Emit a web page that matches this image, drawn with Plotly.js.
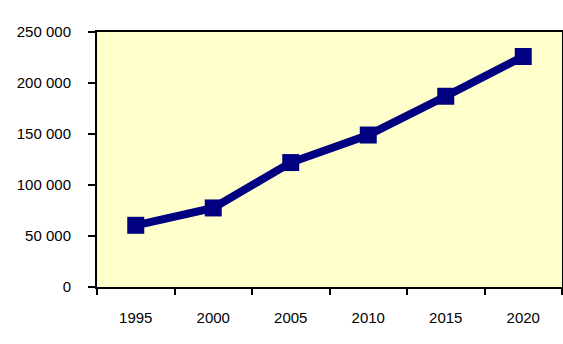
<!DOCTYPE html>
<html>
<head>
<meta charset="utf-8">
<script src="https://cdn.plot.ly/plotly-3.0.1.min.js"></script>
<style>
  html, body { margin: 0; padding: 0; background: #ffffff; }
  #chart { width: 563px; height: 344px; }
</style>
</head>
<body>
<div id="chart"></div>
<script>
// Yearly values
const years = ['1995', '2000', '2005', '2010', '2015', '2020'];
const values = [60500, 77500, 122000, 149000, 187000, 226000];
const yTicks = [0, 50000, 100000, 150000, 200000, 250000];

const trace = {
  type: 'scatter',
  mode: 'lines+markers',
  x: years,
  y: values,
  line: { color: '#000080', width: 8 },
  marker: { symbol: 'square', size: 17, color: '#000080' },
  hoverinfo: 'x+y'
};

const layout = {
  width: 563,
  height: 344,
  margin: { l: 97, r: 1, t: 32, b: 57 },
  paper_bgcolor: '#ffffff',
  plot_bgcolor: '#ffffcc',
  separators: ', ',
  showlegend: false,
  font: { family: 'Liberation Sans, Arial, sans-serif', size: 15, color: '#000000' },
  xaxis: {
    type: 'category',
    range: [-0.5, 5.5],
    tickson: 'boundaries',
    ticks: 'outside',
    ticklen: 6,
    tickwidth: 2,
    tickcolor: '#000000',
    showline: true,
    linecolor: '#000000',
    linewidth: 2,
    mirror: true,
    showgrid: false,
    zeroline: false,
    ticklabelstandoff: 16,
    fixedrange: true
  },
  yaxis: {
    range: [0, 250000],
    tickvals: yTicks,
    tickformat: ',d',
    ticks: 'outside',
    ticklen: 7,
    tickwidth: 2,
    tickcolor: '#000000',
    showline: true,
    linecolor: '#000000',
    linewidth: 2,
    mirror: true,
    showgrid: false,
    zeroline: false,
    ticklabelstandoff: 14,
    fixedrange: true
  }
};

Plotly.newPlot('chart', [trace], layout, { displayModeBar: false, staticPlot: true });
</script>
</body>
</html>
